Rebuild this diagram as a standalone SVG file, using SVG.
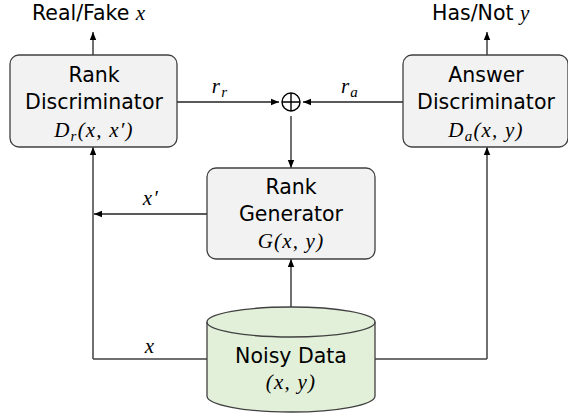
<svg xmlns="http://www.w3.org/2000/svg" width="568" height="415" viewBox="0 0 568 415">
<defs>
<marker id="ah" markerUnits="userSpaceOnUse" markerWidth="8" markerHeight="8" viewBox="0 0 8 8" refX="8" refY="4" orient="auto">
<path d="M0,0.8 L8,4 L0,7.2 Z" fill="#000"/>
</marker>
<style>
.box{fill:#f2f2f2;stroke:#404040;stroke-width:1.3}
.cyl{fill:#e2f0d9;stroke:#404040;stroke-width:1.3}
.ln{fill:none;stroke:#404040;stroke-width:1.3}
.arr{fill:none;stroke:#222;stroke-width:1.3;marker-end:url(#ah)}
.t{font-family:"DejaVu Sans",sans-serif;font-size:20.5px;fill:#000;text-anchor:middle}
.m{font-family:"Liberation Serif",serif;font-style:italic;font-size:21px;letter-spacing:1.2px;fill:#000;text-anchor:middle}
.sub{font-size:15px}
</style>
</defs>
<g id="connectors">
<path class="arr" d="M93,55 V32"/>
<path class="arr" d="M487,55 V32"/>
<path class="arr" d="M177,102 H279"/>
<path class="arr" d="M403,102 H303"/>
<path class="arr" d="M291,116 V168"/>
<path class="arr" d="M207,214 H94"/>
<path class="arr" d="M93,359 V147"/>
<path class="ln" d="M207,359 H93"/>
<path class="arr" d="M487,359 V147"/>
<path class="ln" d="M375,359 H487"/>
<path class="arr" d="M291,307 V259"/>
<text class="m" x="220" y="93">r<tspan class="sub" dy="4">r</tspan></text>
<text class="m" x="350" y="93">r<tspan class="sub" dy="4">a</tspan></text>
<text class="m" x="151" y="205">x′</text>
<text class="m" x="150" y="353">x</text>
<text class="t" x="32" y="20" style="text-anchor:start">Real/Fake <tspan class="m" style="text-anchor:start">x</tspan></text>
<text class="t" x="432" y="20" style="text-anchor:start">Has/Not <tspan class="m" style="text-anchor:start">y</tspan></text>
</g>
<g id="rank-discriminator">
<rect class="box" x="10" y="55" width="167" height="92" rx="9"/>
<text class="t" x="94" y="82">Rank</text>
<text class="t" x="94" y="109">Discriminator</text>
<text class="m" x="94" y="137">D<tspan class="sub" dy="4">r</tspan><tspan dy="-4">(x, x′)</tspan></text>
</g>
<g id="answer-discriminator">
<rect class="box" x="403" y="55" width="165" height="92" rx="9"/>
<text class="t" x="486" y="82">Answer</text>
<text class="t" x="486" y="109">Discriminator</text>
<text class="m" x="486" y="137">D<tspan class="sub" dy="4">a</tspan><tspan dy="-4">(x, y)</tspan></text>
</g>
<g id="oplus">
<circle cx="291" cy="102" r="9" fill="none" stroke="#000" stroke-width="1.4"/>
<path d="M282,102 H300 M291,93 V111" stroke="#000" stroke-width="1.4"/>
</g>
<g id="rank-generator">
<rect class="box" x="207" y="168" width="168" height="91" rx="9"/>
<text class="t" x="291" y="194">Rank</text>
<text class="t" x="291" y="221">Generator</text>
<text class="m" x="291" y="248">G(x, y)</text>
</g>
<g id="noisy-data">
<path class="cyl" d="M207,322 A84,15 0 0 1 375,322 V396 A84,16 0 0 1 207,396 Z"/>
<path class="ln" d="M207,322 A84,15 0 0 0 375,322"/>
<text class="t" x="291" y="363">Noisy Data</text>
<text class="m" x="291" y="389">(x, y)</text>
</g>
</svg>
